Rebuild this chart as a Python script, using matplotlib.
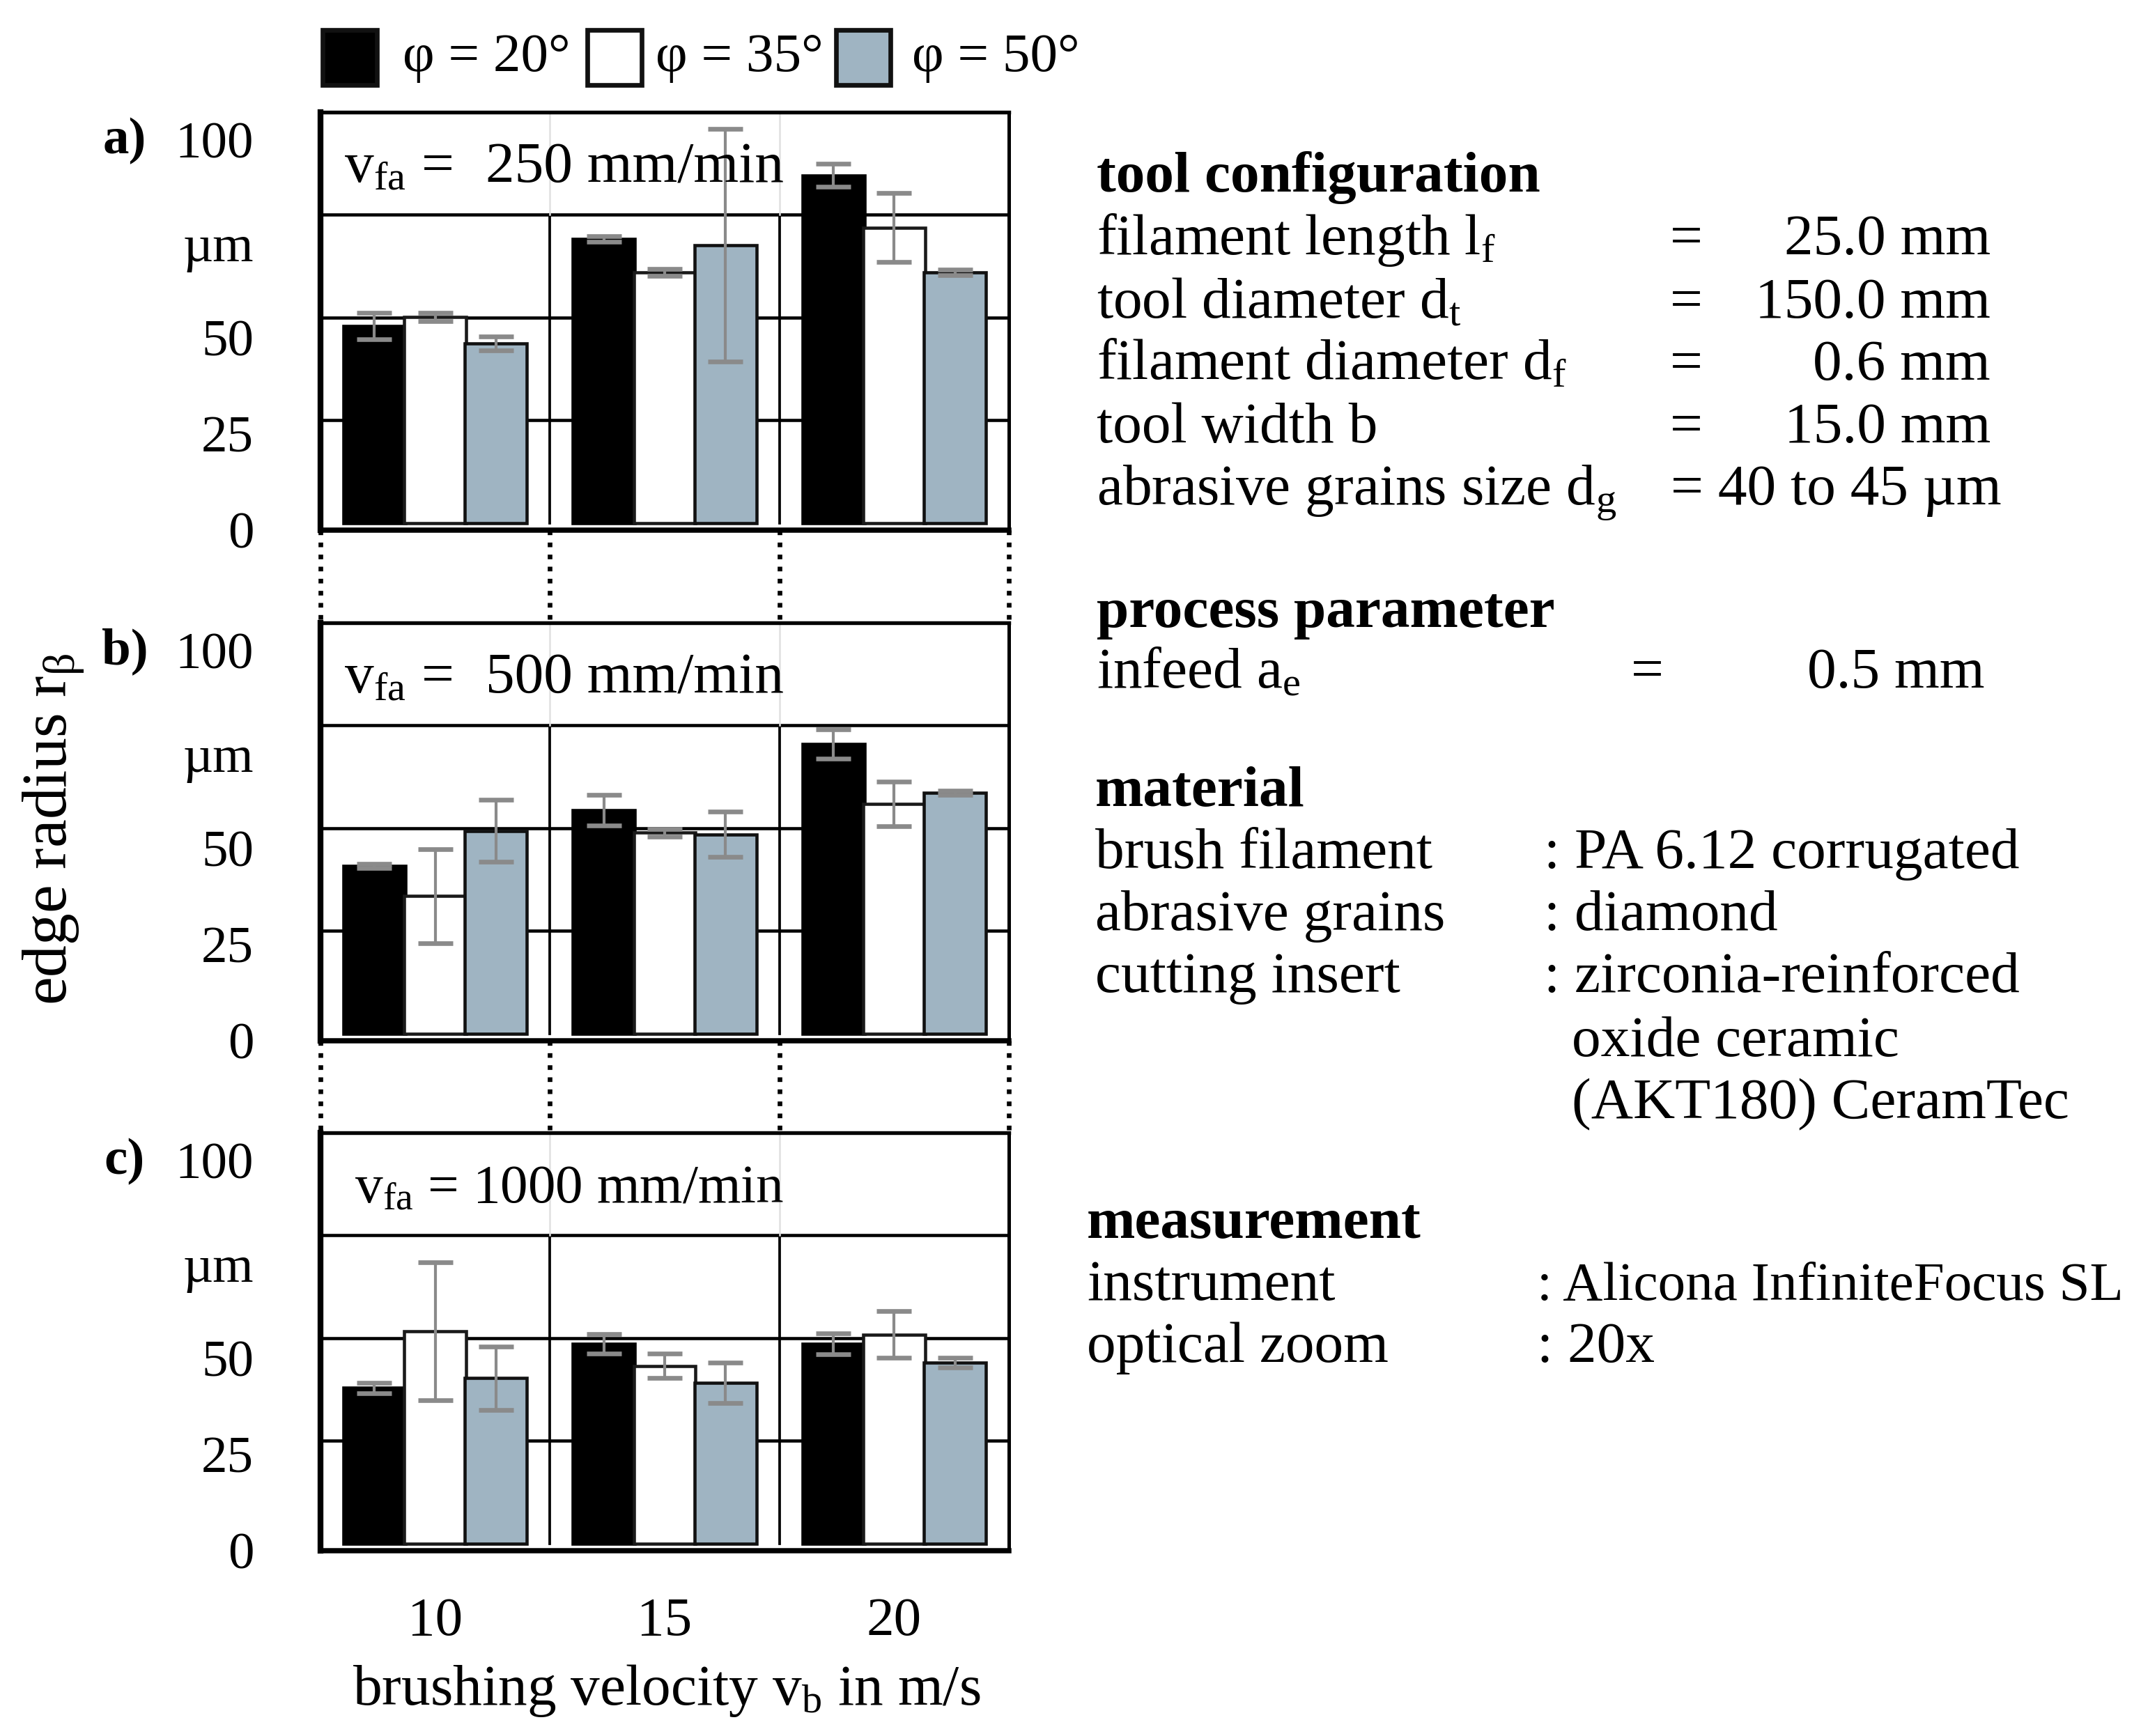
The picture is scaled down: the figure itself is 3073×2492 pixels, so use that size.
import matplotlib
matplotlib.use('Agg')
import matplotlib.pyplot as plt
import numpy as np
from matplotlib.transforms import blended_transform_factory
from matplotlib.lines import Line2D
from matplotlib.patches import Rectangle

plt.rcParams['font.family'] = ['Liberation Serif', 'DejaVu Serif']
plt.rcParams['mathtext.fontset'] = 'custom'
plt.rcParams['mathtext.rm'] = 'Liberation Serif'
plt.rcParams['mathtext.it'] = 'Liberation Serif:italic'
plt.rcParams['mathtext.bf'] = 'Liberation Serif:bold'

# ---------------- data ----------------
velocities = ['10', '15', '20']
angle_labels = ['φ = 20°', 'φ = 35°', 'φ = 50°']
feed_values = ['250', '500', '1000']
panel_letters = ['a)', 'b)', 'c)']

# a) v_fa = 250 mm/min
a_phi20 = [48.0, 69.1, 84.6]
a_phi20_err = [3.2, 0.7, 2.8]
a_phi35 = [50.2, 61.0, 71.9]
a_phi35_err = [1.0, 0.8, 8.4]
a_phi50 = [43.8, 67.6, 61.0]
a_phi50_err = [1.7, 28.3, 0.7]

# b) v_fa = 500 mm/min
b_phi20 = [40.9, 54.4, 70.5]
b_phi20_err = [0.5, 3.8, 3.5]
b_phi35 = [33.5, 48.9, 55.9]
b_phi35_err = [11.4, 1.0, 5.4]
b_phi50 = [49.4, 48.5, 58.7]
b_phi50_err = [7.6, 5.5, 0.5]

# c) v_fa = 1000 mm/min
c_phi20 = [37.9, 48.6, 48.6]
c_phi20_err = [1.3, 2.4, 2.5]
c_phi35 = [51.7, 43.3, 50.9]
c_phi35_err = [16.8, 2.9, 5.7]
c_phi50 = [40.3, 39.1, 44.1]
c_phi50_err = [7.7, 4.9, 1.2]

y_tick_labels = ['0', '25', '50', 'µm', '100']

panels = [
    ([a_phi20, a_phi35, a_phi50], [a_phi20_err, a_phi35_err, a_phi50_err]),
    ([b_phi20, b_phi35, b_phi50], [b_phi20_err, b_phi35_err, b_phi50_err]),
    ([c_phi20, c_phi35, c_phi50], [c_phi20_err, c_phi35_err, c_phi50_err]),
]

# ---------------- styling ----------------
W, H = 3073, 2492
DPI = 300
fig = plt.figure(figsize=(W / DPI, H / DPI), dpi=DPI)
fig.patch.set_facecolor('white')

def fx(px):
    return px / W

def fy(py):
    return 1 - py / H

bar_colors = ['#000000', '#ffffff', '#9fb4c2']
edge_colors = ['#000000', '#1a1a1a', '#111111']
err_color = '#8a8a8a'
offsets = [-0.265, 0.0, 0.265]
bar_width = 0.27

ax_left, ax_right = 460, 1448
ax_tops = [161, 894, 1626]
ax_h = 600
tick_pos = [-1.7, 21.7, 45.1, 68.1, 93.3]

axes = []
for i, (means, errs) in enumerate(panels):
    top = ax_tops[i]
    ax = fig.add_axes([fx(ax_left), fy(top + ax_h), fx(ax_right) - fx(ax_left), ax_h / H])
    axes.append(ax)
    x = np.arange(1, len(velocities) + 1)
    for g in (25, 50, 75):
        ax.axhline(g, color='black', lw=1.1, zorder=1)
    # vertical group separators
    for sx in (1.5, 2.5):
        ax.plot([sx, sx], [0, 75], color='black', lw=0.9, zorder=1)
        ax.plot([sx, sx], [75, 100], color='#e0e0e0', lw=0.6, zorder=1)
    for k in range(3):
        ax.bar(x + offsets[k], means[k], width=bar_width, color=bar_colors[k],
               edgecolor=edge_colors[k], linewidth=1.1, zorder=2, label=angle_labels[k])
        ax.errorbar(x + offsets[k], means[k], yerr=errs[k], fmt='none', ecolor=err_color,
                    elinewidth=1.0, capsize=6, capthick=1.6, zorder=3)
    ax.set_xlim(0.5, 3.5)
    ax.set_ylim(0, 100)
    ax.set_yticks(tick_pos)
    ax.set_yticklabels(y_tick_labels, fontsize=18)
    ax.tick_params(axis='y', length=0, pad=23)
    ax.set_xticks(x)
    if i == 2:
        ax.set_xticklabels(velocities, fontsize=19)
        ax.tick_params(axis='x', length=0, pad=16)
    else:
        ax.set_xticklabels([])
        ax.tick_params(axis='x', length=0)
    ax.spines['left'].set_linewidth(2.0)
    ax.spines['bottom'].set_linewidth(1.8)
    ax.spines['top'].set_linewidth(1.3)
    ax.spines['right'].set_linewidth(1.2)
    for s in ax.spines.values():
        s.set_zorder(4)
    # feed text
    if i < 2:
        ax.text(0.603, 83, r'v$_{\rm fa}$ =', fontsize=20, ha='left', va='baseline', zorder=5)
        ax.text(2.519, 83, feed_values[i] + ' mm/min', fontsize=20, ha='right',
                va='baseline', zorder=5)
    else:
        ax.text(2.519, 83, r'v$_{\rm fa}$ = ' + feed_values[i] + ' mm/min', fontsize=19,
                ha='right', va='baseline', zorder=5)
    # panel letter
    fig.text(fx(179), fy(ax_tops[i] + 41), panel_letters[i], fontsize=18, fontweight='bold',
             ha='center', va='center')

# dotted connectors between panels
for i in range(2):
    tr = blended_transform_factory(axes[i].transData, fig.transFigure)
    y0 = fy(ax_tops[i] + ax_h)
    y1 = fy(ax_tops[i + 1])
    for sx in (0.5, 1.5, 2.5, 3.5):
        fig.add_artist(Line2D([sx, sx], [y0, y1], transform=tr, color='black', lw=1.6,
                              linestyle=(0, (1.0, 1.6))))

# axis labels
fig.text(fx(78), fy(1190), r'edge radius r$_{\mathrm{β}}$', rotation=90, fontsize=22,
         ha='center', va='center')
fig.text(fx(957), fy(2427), r'brushing velocity v$_{\rm b}$ in m/s', fontsize=20,
         ha='center', va='center')

# legend (drawn as figure-level patches)
leg_sq = [(463, 541), (843, 921), (1200, 1278)]
leg_tx = [578, 941, 1309]
for k in range(3):
    x0, x1 = leg_sq[k]
    fig.add_artist(Rectangle((fx(x0), fy(122)), (x1 - x0) / W, (122 - 43) / H,
                             transform=fig.transFigure, facecolor=bar_colors[k],
                             edgecolor='#111111', linewidth=1.6))
    fig.text(fx(leg_tx[k]), fy(102), angle_labels[k], fontsize=19, ha='left', va='baseline')

# right-hand information block
FS = 20
def line(x, y, s, fs=FS, **kw):
    fig.text(fx(x), fy(y), s, fontsize=fs, ha=kw.pop('ha', 'left'), va='baseline', **kw)

line(1574, 275, 'tool configuration', fontweight='bold')
rows = [
    (365, r'filament length l$_{\rm f}$', '25.0 mm'),
    (456, r'tool diameter d$_{\rm t}$', '150.0 mm'),
    (545, r'filament diameter d$_{\rm f}$', '0.6 mm'),
    (635, 'tool width b', '15.0 mm'),
]
for y, lab, val in rows:
    line(1574, y, lab)
    line(2420, y, '=', ha='center')
    line(2857, y, val, ha='right')
line(1574, 724, r'abrasive grains size d$_{\rm g}$')
line(2398, 724, '= 40 to 45 µm')

line(1574, 900, 'process parameter', fontweight='bold')
line(1574, 987, r'infeed a$_{\rm e}$')
line(2364, 987, '=', ha='center')
line(2849, 987, '0.5 mm', ha='right')

line(1572, 1157, 'material', fontweight='bold')
line(1572, 1246, 'brush filament')
line(2216, 1246, ': PA 6.12 corrugated')
line(1572, 1335, 'abrasive grains')
line(2216, 1335, ': diamond')
line(1572, 1424, 'cutting insert')
line(2216, 1424, ': zirconia-reinforced')
line(2256, 1516, 'oxide ceramic')
line(2256, 1605, '(AKT180) CeramTec')

line(1560, 1777, 'measurement', fontweight='bold')
line(1560, 1866, 'instrument')
line(2206, 1866, ': Alicona InfiniteFocus SL', fs=19)
line(1560, 1955, 'optical zoom')
line(2206, 1955, ': 20x')

fig.savefig('out.png', dpi=DPI, facecolor='white')
